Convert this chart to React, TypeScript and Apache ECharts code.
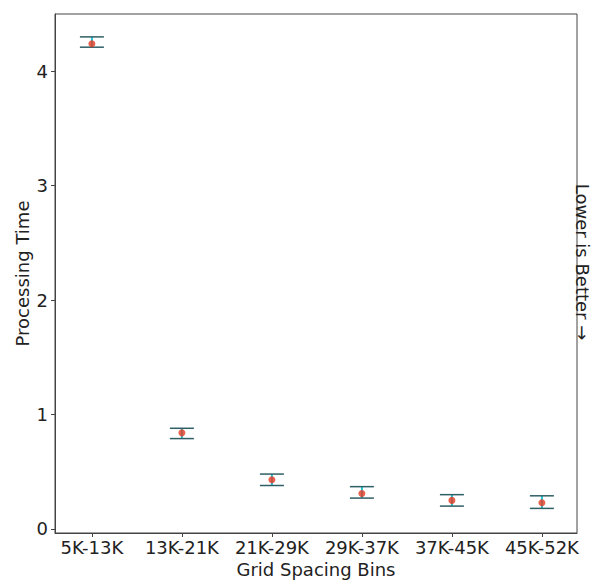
import React, { useEffect, useRef } from "react";
import * as echarts from "echarts";

const categories = ["5K-13K", "13K-21K", "21K-29K", "29K-37K", "37K-45K", "45K-52K"];
const means = [4.24, 0.84, 0.43, 0.31, 0.25, 0.23];
const lowers = [4.21, 0.79, 0.38, 0.27, 0.2, 0.18];
const uppers = [4.3, 0.88, 0.48, 0.37, 0.3, 0.29];
const yTicks = [0, 1, 2, 3, 4];

const FONT = "DejaVu Sans";
const FS = 18;

export default function App() {
  const ref = useRef<HTMLDivElement>(null);
  useEffect(() => {
    if (!ref.current) return;
    const chart = echarts.init(ref.current, undefined, { renderer: "svg" });
    const errData = categories.map((_, i) => [i, lowers[i], uppers[i]]);
    const meanData = categories.map((_, i) => [i, means[i]]);
    chart.setOption({
      animation: false,
      backgroundColor: "#ffffff",
      grid: {
        left: 55,
        right: 15,
        top: 14,
        bottom: 51,
        containLabel: false,
        outerBoundsMode: "none",
        show: true,
        borderColor: "#444",
        borderWidth: 1,
        backgroundColor: "transparent",
      },
      xAxis: {
        type: "value",
        min: -0.41,
        max: 5.39,
        name: "Grid Spacing Bins",
        nameLocation: "middle",
        nameGap: 26,
        nameTextStyle: { fontFamily: FONT, fontSize: FS, color: "#222" },
        axisLine: { show: true, onZero: false, lineStyle: { color: "#444" } },
        axisTick: { show: true, length: 4, lineStyle: { color: "#444" }, customValues: categories.map((_, i) => i) },
        axisLabel: {
          customValues: categories.map((_, i) => i),
          formatter: (v: number) => categories[Math.round(v)] ?? "",
          fontFamily: FONT,
          fontSize: FS,
          color: "#222",
          margin: 5,
        },
        splitLine: { show: false },
      },
      yAxis: {
        type: "value",
        min: -0.035,
        max: 4.5,
        name: "Processing Time",
        nameLocation: "middle",
        nameGap: 24,
        nameMoveOverlap: false,
        nameTextStyle: { fontFamily: FONT, fontSize: FS, color: "#222" },
        axisLine: { show: true, onZero: false, lineStyle: { color: "#444" } },
        axisTick: { show: true, length: 4, lineStyle: { color: "#444" }, customValues: yTicks },
        axisLabel: {
          customValues: yTicks,
          fontFamily: FONT,
          fontSize: FS,
          color: "#222",
          margin: 7,
        },
        splitLine: { show: false },
      },
      graphic: [
        {
          type: "text",
          x: 573,
          y: 262,
          rotation: -Math.PI / 2,
          style: {
            text: "Lower is Better \u2192",
            fontFamily: FONT,
            fontSize: FS,
            fill: "#222",
            textAlign: "center",
            textVerticalAlign: "bottom",
          },
        },
      ],
      series: [
        {
          type: "custom",
          data: errData,
          renderItem: (params: any, api: any) => {
            const x = api.value(0);
            const lo = api.coord([x, api.value(1)]);
            const hi = api.coord([x, api.value(2)]);
            const hw = 12;
            return {
              type: "group",
              children: [
                {
                  type: "line",
                  shape: { x1: lo[0], y1: lo[1], x2: hi[0], y2: hi[1] },
                  style: { stroke: "#22c4d6", lineWidth: 2 },
                },
                {
                  type: "line",
                  shape: { x1: lo[0] - hw, y1: lo[1], x2: lo[0] + hw, y2: lo[1] },
                  style: { stroke: "#2f5f66", lineWidth: 1.5 },
                },
                {
                  type: "line",
                  shape: { x1: hi[0] - hw, y1: hi[1], x2: hi[0] + hw, y2: hi[1] },
                  style: { stroke: "#2f5f66", lineWidth: 1.5 },
                },
              ],
            };
          },
        },
        {
          type: "scatter",
          data: meanData,
          symbol: "circle",
          symbolSize: 7,
          itemStyle: { color: "#e63a22" },
          z: 5,
        },
      ],
    });
    return () => chart.dispose();
  }, []);
  return (
    <div
      ref={ref}
      style={{ position: "fixed", left: 0, top: 0, width: 592, height: 584, background: "#fff" }}
    />
  );
}
